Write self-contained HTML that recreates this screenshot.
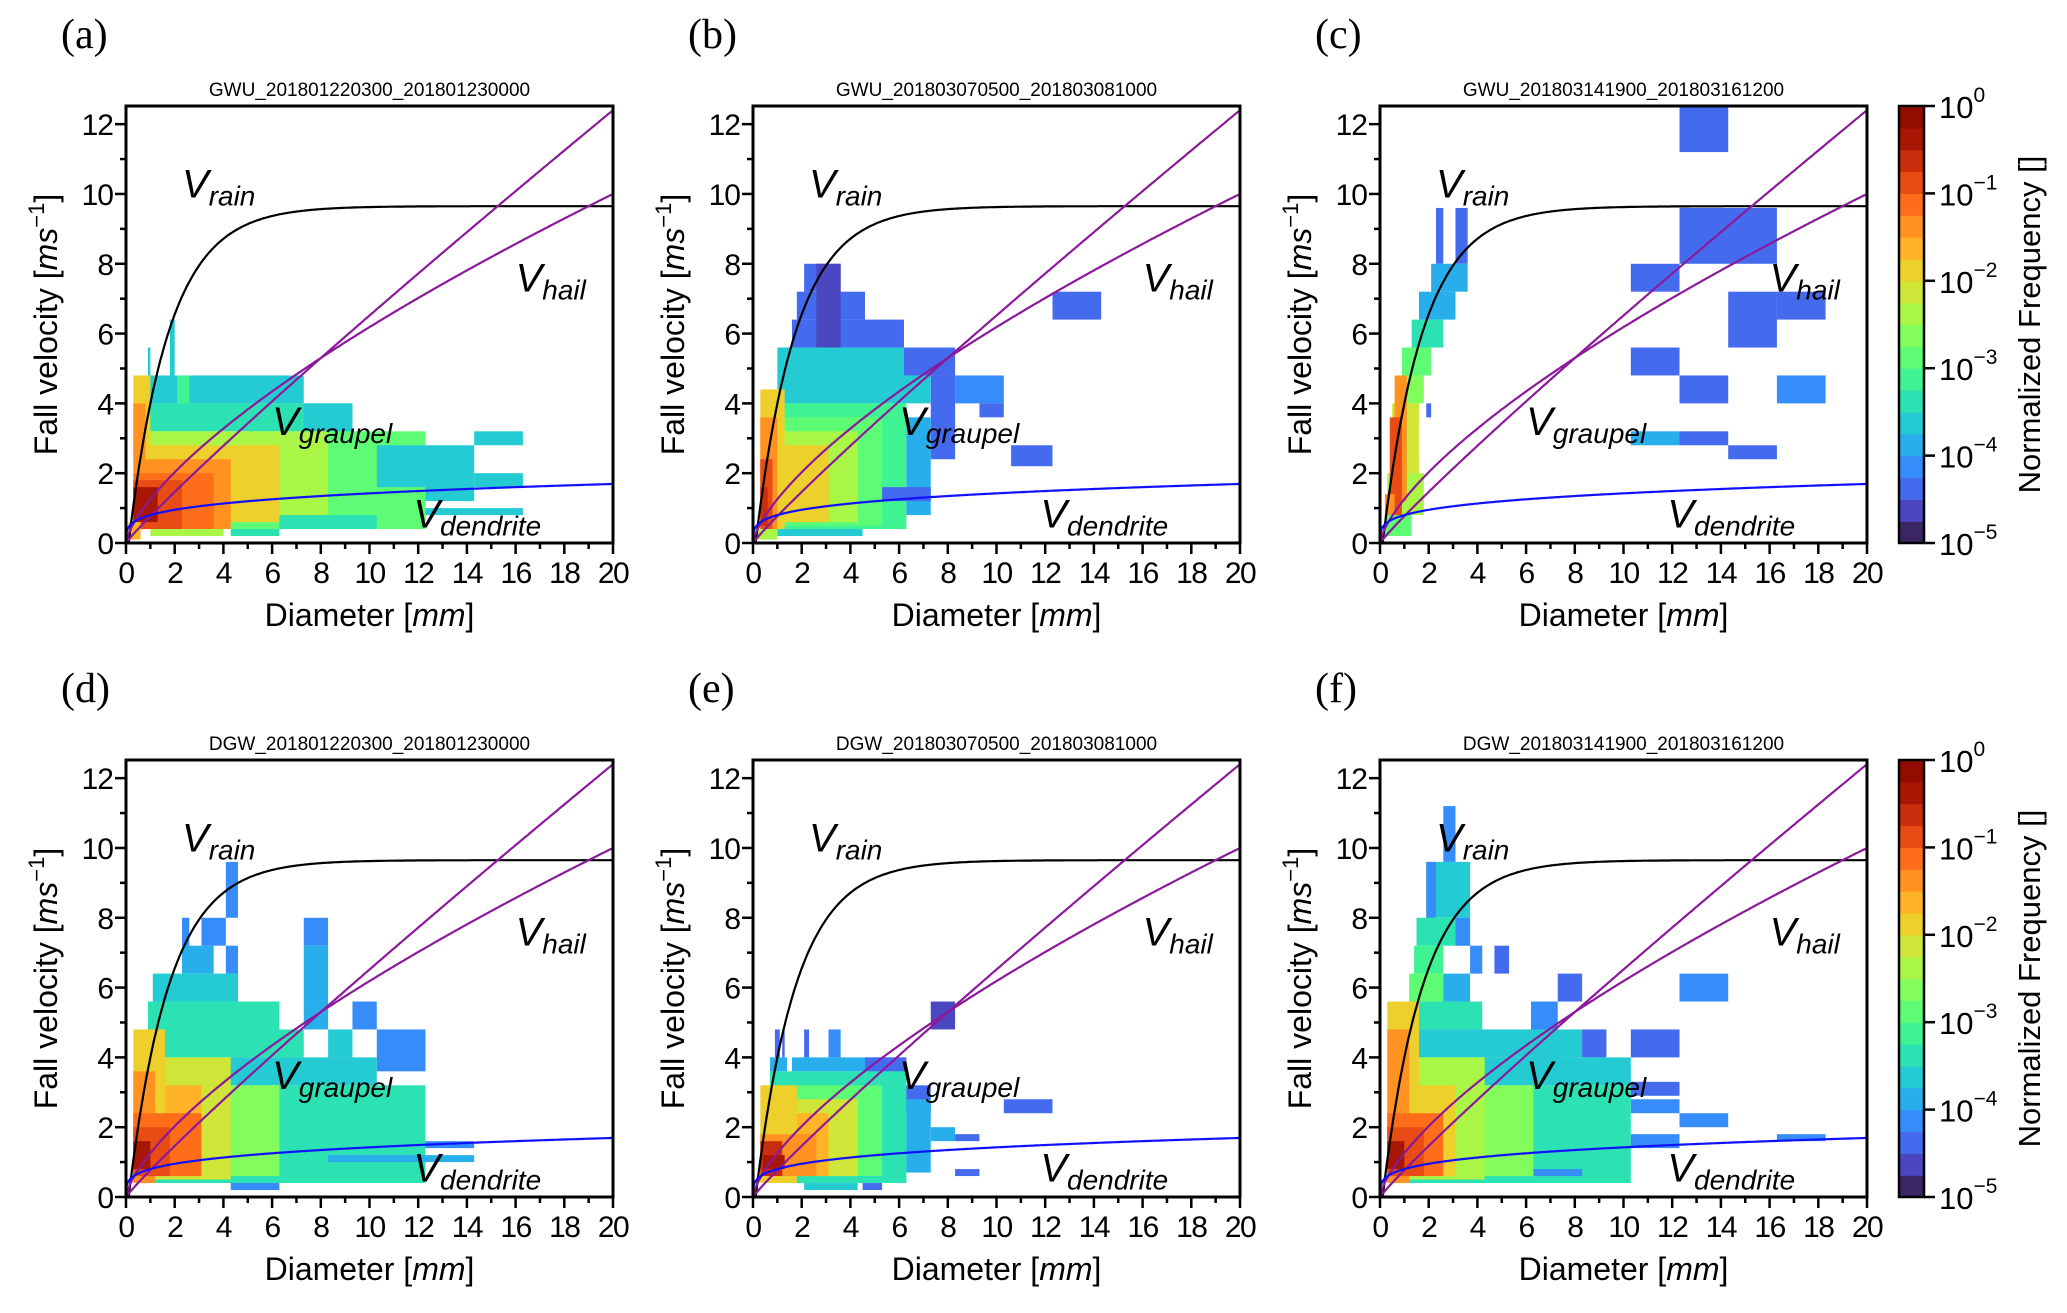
<!DOCTYPE html>
<html><head><meta charset="utf-8"><style>
html,body{margin:0;padding:0;background:#fff;}
svg text{font-family:"Liberation Sans",sans-serif;}
</style></head><body>
<svg id="fig" xmlns="http://www.w3.org/2000/svg" width="2067" height="1308" viewBox="0 0 2067 1308"></svg>
<script>
// ---- data ----
const panelLetters = ["(a)","(b)","(c)","(d)","(e)","(f)"];
const panelTitles = ["GWU_201801220300_201801230000","GWU_201803070500_201803081000","GWU_201803141900_201803161200",
  "DGW_201801220300_201801230000","DGW_201803070500_201803081000","DGW_201803141900_201803161200"];
const xTicks = [0,2,4,6,8,10,12,14,16,18,20];
const yTicks = [0,2,4,6,8,10,12];
const cbarExps = [0,-1,-2,-3,-4,-5];
// heatmap blocks: [Dmin, Dmax, Vmin, Vmax, log10 freq]
const blocksA = [[0.5,12.3,0.4,3.2,-3.0],[0.7,9.3,3.2,4.0,-3.4],[0.9,7.3,4.0,4.8,-3.6],[2.1,2.6,4.0,4.8,-3.1],[7.3,9.3,3.2,4.0,-3.6],
 [10.3,12.3,1.6,2.8,-3.6],[12.3,14.3,1.2,2.8,-3.6],[14.3,16.3,2.8,3.2,-3.6],[14.3,16.3,1.6,2.0,-3.6],[12.3,16.3,0.8,1.0,-3.6],
 [6.3,10.3,0.4,0.8,-3.5],[4.3,6.3,0.2,0.4,-3.5],[1.8,2.0,4.8,6.4,-3.6],[0.9,1.0,4.8,5.6,-3.6],[0.5,8.3,0.8,3.2,-2.5],
 [0.5,6.3,0.6,2.8,-2.0],[0.4,4.3,0.4,2.4,-1.5],[0.3,1.0,2.4,4.8,-2.0],[0.3,0.8,2.0,4.0,-1.5],[0.3,3.6,0.4,2.0,-1.2],
 [0.3,2.3,0.4,1.8,-0.9],[0.3,1.3,0.6,1.6,-0.4],[0.1,0.6,0.1,0.6,-1.6],[1.0,4.0,0.2,0.4,-2.4]];
const blocksB = [[2.1,3.6,7.2,8.0,-4.4],[1.8,4.6,6.4,7.2,-4.3],[1.6,6.2,5.6,6.4,-4.3],[2.6,3.6,5.6,8.0,-4.6],[6.2,8.3,4.8,5.6,-4.4],
 [8.3,10.3,4.0,4.8,-4.2],[9.3,10.3,3.6,4.0,-4.5],[7.3,8.3,2.4,4.8,-4.5],[10.6,12.3,2.2,2.8,-4.3],[12.3,14.3,6.4,7.2,-4.5],
 [1.0,6.2,4.8,5.6,-3.7],[1.0,7.3,4.0,4.8,-3.6],[0.7,6.3,0.4,4.0,-3.2],[6.3,7.3,0.8,3.6,-4.0],[5.3,7.3,1.2,1.6,-4.3],
 [0.5,5.3,0.5,3.6,-2.8],[0.5,4.3,0.6,3.2,-2.3],[0.4,3.1,0.6,2.8,-2.0],[0.3,1.3,0.4,4.4,-1.8],[0.3,1.0,0.4,3.6,-1.3],
 [0.3,0.8,0.4,2.4,-0.9],[0.3,0.6,0.5,1.6,-0.6],[1.0,4.5,0.2,0.4,-3.6],[0.2,1.0,0.1,0.4,-2.5]];
const blocksC = [[12.3,14.3,11.2,12.8,-4.5],[12.3,16.3,8.0,9.6,-4.5],[10.3,12.3,7.2,8.0,-4.5],[14.3,16.3,5.6,7.2,-4.5],[16.3,18.3,6.4,7.2,-4.5],
 [10.3,12.3,4.8,5.6,-4.5],[12.3,14.3,4.0,4.8,-4.5],[16.3,18.3,4.0,4.8,-4.1],[10.3,12.3,2.8,3.2,-4.0],[12.3,14.3,2.8,3.2,-4.5],[14.3,16.3,2.4,2.8,-4.5],
 [2.3,2.6,8.0,9.6,-4.5],[3.1,3.6,8.0,9.6,-4.5],[2.1,3.6,7.2,8.0,-3.8],[1.6,3.1,6.4,7.2,-3.8],[1.3,2.6,5.6,6.4,-3.4],
 [0.9,2.1,4.8,5.6,-3.0],[0.7,1.8,4.0,4.8,-2.6],[1.9,2.1,3.6,4.0,-4.3],[0.5,1.6,2.0,4.0,-2.2],[0.3,1.8,0.8,2.0,-2.4],
 [0.6,1.1,1.2,4.8,-1.4],[0.4,0.9,0.6,3.6,-0.8],[0.2,0.6,0.3,1.4,-1.5],[0.2,1.3,0.2,0.8,-3.0]];
const blocksD = [[4.1,4.6,8.0,9.6,-4.2],[2.3,2.6,7.2,8.0,-4.2],[3.1,4.1,7.2,8.0,-4.2],[7.3,8.3,7.2,8.0,-4.2],[2.3,3.6,6.4,7.2,-3.8],
 [4.1,4.6,6.4,7.2,-4.1],[7.3,8.3,5.6,7.2,-4.0],[1.1,4.6,5.6,6.4,-3.7],[7.3,8.3,4.8,5.6,-3.8],[9.3,10.3,4.8,5.6,-4.2],
 [0.9,6.3,4.8,5.6,-3.5],[0.7,7.3,4.0,4.8,-3.4],[8.3,9.3,4.0,4.8,-3.6],[10.3,12.3,3.6,4.8,-4.2],[0.7,10.3,3.2,4.0,-3.6],
 [0.6,12.3,0.4,3.2,-3.3],[12.3,14.3,1.4,1.6,-4.1],[8.3,14.3,1.0,1.2,-4.0],[4.3,6.3,0.2,0.4,-4.1],
 [0.6,6.3,0.6,3.2,-2.6],[0.5,4.3,0.5,4.0,-2.2],[0.4,3.1,0.6,3.2,-1.6],[0.3,1.6,0.6,4.8,-1.8],[0.3,1.2,0.4,3.6,-1.3],
 [0.3,3.1,0.6,2.4,-1.1],[0.3,1.8,0.6,2.0,-0.8],[0.3,1.0,0.8,1.6,-0.3]];
const blocksE = [[7.3,8.3,4.8,5.6,-4.6],[0.9,1.1,4.0,4.8,-4.4],[1.2,1.3,4.0,4.8,-4.3],[2.1,2.3,4.0,4.8,-4.5],[3.1,3.6,4.0,4.8,-4.1],
 [0.7,1.4,3.6,4.0,-3.8],[1.6,6.2,3.6,4.0,-3.9],[4.6,6.3,3.6,4.0,-4.5],[6.2,7.3,2.4,3.2,-4.5],[10.3,12.3,2.4,2.8,-4.5],
 [7.3,8.3,1.6,2.0,-4.0],[8.3,9.3,1.6,1.8,-4.5],[8.3,9.3,0.6,0.8,-4.5],[0.7,6.3,0.4,3.6,-3.5],[6.3,7.3,0.7,2.8,-3.9],
 [0.6,5.3,0.6,3.2,-2.8],[0.5,4.3,0.6,2.8,-2.1],[0.4,3.1,0.6,2.4,-1.6],[0.3,1.8,0.4,3.2,-1.8],[0.3,2.6,0.6,1.8,-1.3],
 [0.3,1.2,0.6,1.6,-0.7],[0.4,1.3,0.8,1.2,-0.3],[4.5,5.3,0.2,0.4,-4.5],[2.1,4.3,0.2,0.4,-3.6]];
const blocksF = [[2.6,3.1,9.6,11.2,-4.2],[1.9,3.7,8.0,9.6,-3.6],[1.9,2.3,8.0,9.6,-4.1],[1.5,3.7,7.2,8.0,-3.4],[3.1,3.7,7.2,8.0,-4.1],
 [1.4,2.6,6.4,7.2,-3.2],[3.7,4.2,6.4,7.2,-4.2],[4.7,5.3,6.4,7.2,-4.3],[1.2,2.6,5.6,6.4,-3.0],[2.6,3.7,5.6,6.4,-3.9],
 [7.3,8.3,5.6,6.4,-4.3],[12.3,14.3,5.6,6.4,-4.2],[0.9,4.2,4.8,5.6,-3.4],[6.2,7.3,4.0,5.6,-4.1],[0.7,8.3,4.0,4.8,-3.6],
 [8.3,9.3,4.0,4.8,-4.4],[10.3,12.3,4.0,4.8,-4.3],[0.7,10.3,3.2,4.0,-3.6],[10.3,12.3,2.9,3.3,-4.3],[10.3,12.3,2.4,2.8,-4.2],
 [12.3,14.3,2.0,2.4,-4.2],[16.3,18.3,1.6,1.8,-4.2],[0.6,10.3,0.4,3.2,-3.3],[10.3,12.3,1.4,1.8,-4.2],[6.3,8.3,0.6,0.8,-4.2],
 [0.6,6.3,0.6,3.2,-2.7],[0.5,4.3,0.5,4.0,-2.3],[0.4,3.1,0.6,3.2,-1.8],[0.3,1.6,0.6,5.6,-1.8],[0.3,1.2,0.4,4.8,-1.3],
 [0.3,2.6,0.6,2.4,-1.2],[0.3,1.8,0.6,2.0,-0.8],[0.3,1.0,0.8,1.6,-0.3]];
const panelBlocks = [blocksA,blocksB,blocksC,blocksD,blocksE,blocksF];

// ---- layout ----
const NS="http://www.w3.org/2000/svg";
const svg=document.getElementById('fig');
const colX=[126,753,1380], rowY0=[543,1197];
const AW=487, AH=437, XMAX=20, YMAX=12.52;
function mk(tag,attrs,parent){const e=document.createElementNS(NS,tag);for(const k in attrs)e.setAttribute(k,attrs[k]);(parent||svg).appendChild(e);return e;}
function turbo(t){
  const r=0.13572138+t*(4.61539260+t*(-42.66032258+t*(132.13108234+t*(-152.94239396+t*59.28637943))));
  const g=0.09140261+t*(2.19418839+t*(4.84296658+t*(-14.18503333+t*(4.27729857+t*2.82956604))));
  const b=0.10667330+t*(12.64194608+t*(-60.58204836+t*(110.36276771+t*(-89.90310912+t*27.34824973))));
  const c=v=>Math.round(255*Math.max(0,Math.min(1,v)));
  return `rgb(${c(r)},${c(g)},${c(b)})`;
}
function lvlColor(lf){let i=Math.floor((lf+5)/5*20);i=Math.max(0,Math.min(19,i));return turbo((i+0.5)/20);}

for(let p=0;p<6;p++){
  const x0=colX[p%3], y0=rowY0[Math.floor(p/3)];
  const sx=d=>x0+d/XMAX*AW, sy=v=>y0-v/YMAX*AH;
  const g=mk('g',{});
  
  
  const clipId='clip'+p;
  const cp=mk('clipPath',{id:clipId},g); mk('rect',{x:x0,y:y0-AH,width:AW,height:AH},cp);
  const hm=mk('g',{'clip-path':`url(#${clipId})`},g);
  
  
  panelBlocks[p].forEach(b=>{
    const r=mk('rect',{x:sx(b[0]),y:sy(b[3]),width:sx(b[1])-sx(b[0]),height:sy(b[2])-sy(b[3]),fill:lvlColor(b[4])},hm);
    
    
  });
  const curves=[
    ['rain-curve','#000',d=>9.65-10.3*Math.exp(-0.6*d),0.11],
    ['hail-curve','#8b1a9b',d=>12.4*Math.pow(d/20,0.928),0],
    ['graupel-curve','#8b1a9b',d=>10*Math.pow(d/20,0.693),0],
    ['dendrite-curve','#1010ff',d=>0.8*Math.pow(d,0.25),0.02]];
  curves.forEach(c=>{
    let pts=[];for(let d=c[3];d<=20.001;d+=0.05)pts.push(sx(d).toFixed(1)+','+sy(Math.max(0,c[2](d))).toFixed(1));
    const pl=mk('polyline',{points:pts.join(' '),fill:'none',stroke:c[1],'stroke-width':2.2},hm);
    
    
  });
  const fr=mk('rect',{x:x0,y:y0-AH,width:AW,height:AH,fill:'none',stroke:'#000','stroke-width':3},g);
  
  
  for(let d=0;d<=20;d++){mk('line',{x1:sx(d),x2:sx(d),y1:y0,y2:y0+(d%2?6:11),stroke:'#000','stroke-width':2.5},g);}
  for(let v=0;v<=12;v++){mk('line',{x1:x0,x2:x0-(v%2?6:11),y1:sy(v),y2:sy(v),stroke:'#000','stroke-width':2.5},g);}
  xTicks.forEach(t=>{const tx=mk('text',{x:sx(t),y:y0+40,'font-size':30,'text-anchor':'middle','letter-spacing':-1.5},g);tx.textContent=t;
    
    });
  yTicks.forEach(t=>{const tx=mk('text',{x:x0-13,y:sy(t)+11,'font-size':30,'text-anchor':'end','letter-spacing':-1},g);tx.textContent=t;
    
    });
  const xl=mk('text',{x:x0+AW/2,y:y0+83,'font-size':32,'text-anchor':'middle'},g);
  xl.innerHTML='Diameter [<tspan font-style="italic">mm</tspan>]';
  
  
  const yl=mk('text',{x:0,y:0,'font-size':32,'text-anchor':'middle',transform:`translate(${x0-69},${y0-AH/2}) rotate(-90)`},g);
  yl.innerHTML='Fall velocity [<tspan font-style="italic">ms</tspan><tspan font-size="22" dy="-13">−1</tspan><tspan dy="13">]</tspan>';
  
  
  const tt=mk('text',{x:x0+AW/2,y:y0-AH-10,'font-size':19,'text-anchor':'middle'},g);
  tt.textContent=panelTitles[p];
  
  
  const pl=mk('text',{x:x0-65,y:y0-AH-58,'font-size':42,style:'font-family:"Liberation Serif",serif'},g);
  pl.textContent=panelLetters[p];
  
  
  const labs=[['rain',2.3,9.9],['hail',16.0,7.2],['graupel',6.0,3.1],['dendrite',11.8,0.45]];
  labs.forEach(l=>{
    const t=mk('text',{x:sx(l[1]),y:sy(l[2]),'font-size':40,'font-style':'italic'},g);
    t.innerHTML=`V<tspan font-size="28" dy="8">${l[0]}</tspan>`;
    
    
  });
}
for(let r=0;r<2;r++){
  const y0=rowY0[r], cx=1899, cw=25;
  const g=mk('g',{});
  
  
  for(let i=0;i<20;i++){
    mk('rect',{x:cx,y:y0-(i+1)*AH/20,width:cw,height:AH/20+0.6,fill:turbo((i+0.5)/20)},g);
  }
  mk('rect',{x:cx,y:y0-AH,width:cw,height:AH,fill:'none',stroke:'#000','stroke-width':2.5},g);
  cbarExps.forEach((e,i)=>{
    const yy=y0-AH+i*AH/5;
    mk('line',{x1:cx+cw,x2:cx+cw+11,y1:yy,y2:yy,stroke:'#000','stroke-width':2.5},g);
    const t=mk('text',{x:cx+cw+15,y:yy+12,'font-size':31},g);
    t.innerHTML=`10<tspan font-size="21" dy="-16">${e===0?'0':'−'+(-e)}</tspan>`;
    
    
  });
  const lb=mk('text',{x:0,y:0,'font-size':31,'text-anchor':'middle',transform:`translate(2040,${y0-AH/2}) rotate(-90)`},g);
  lb.textContent='Normalized Frequency []';
  
  
}
</script>
</body></html>
